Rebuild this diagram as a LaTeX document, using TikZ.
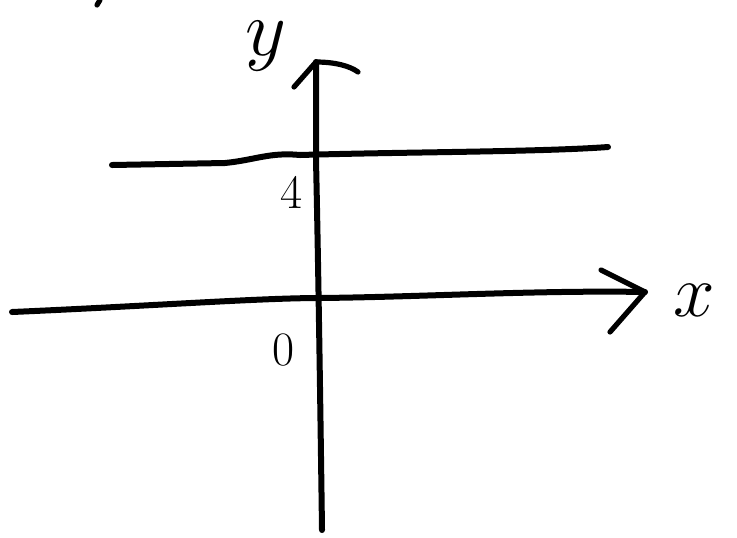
\documentclass[tikz,border=0pt]{standalone}
\usepackage{tikz}
\usetikzlibrary{positioning}
\tikzset{
  pen/.style={line width=3pt, line cap=round, line join=round, draw=black},
  barb/.style={line width=2.6pt, line cap=round, draw=black},
  ticklabel/.style={inner sep=0pt, font=\fontsize{24}{24}\selectfont},
  axislabel/.style={inner sep=0pt, font=\fontsize{24}{24}\selectfont}
}
\begin{document}
\begin{tikzpicture}[x=0.5pt, y=-0.5pt]
  \useasboundingbox (0,0) rectangle (737,537);

  % axis ends
  \coordinate (xstart) at (12,312);
  \coordinate (xend) at (645,292);
  \coordinate (ystart) at (322,530);
  \coordinate (yend) at (316,62);
  \coordinate (lstart) at (112,165);
  \coordinate (lend) at (608,147);

  % labels
  \node[axislabel] (ylabel) at (266,46) {\scalebox{1.6}{$y$}};
  \node[axislabel] (xlabel) at (694,300) {\scalebox{1.5}{$x$}};
  \node[ticklabel] (four) at (292,192) {4};
  \node[ticklabel] (zero) at (284,350) {0};

  % y axis
  \draw[pen] (ystart) .. controls (320,380) and (318,250) .. (316,160) -- (yend);
  \draw[barb] (yend) -- (294,87);
  \draw[barb] (yend) .. controls (335,62) and (350,66) .. (358,72);

  % x axis
  \draw[pen] (xstart) .. controls (150,306) and (260,298) .. (320,298)
    .. controls (420,297) and (540,290) .. (xend);
  \draw[barb] (xend) -- (601,270);
  \draw[barb] (xend) -- (610,332);

  % line at 4
  \draw[pen] (lstart) -- (225,163) .. controls (255,160) and (270,152) .. (300,155)
    .. controls (400,152) and (540,152) .. (lend);

  % stray stroke
  \draw[barb] (100,0) -- (97,5);
\end{tikzpicture}
\end{document}
